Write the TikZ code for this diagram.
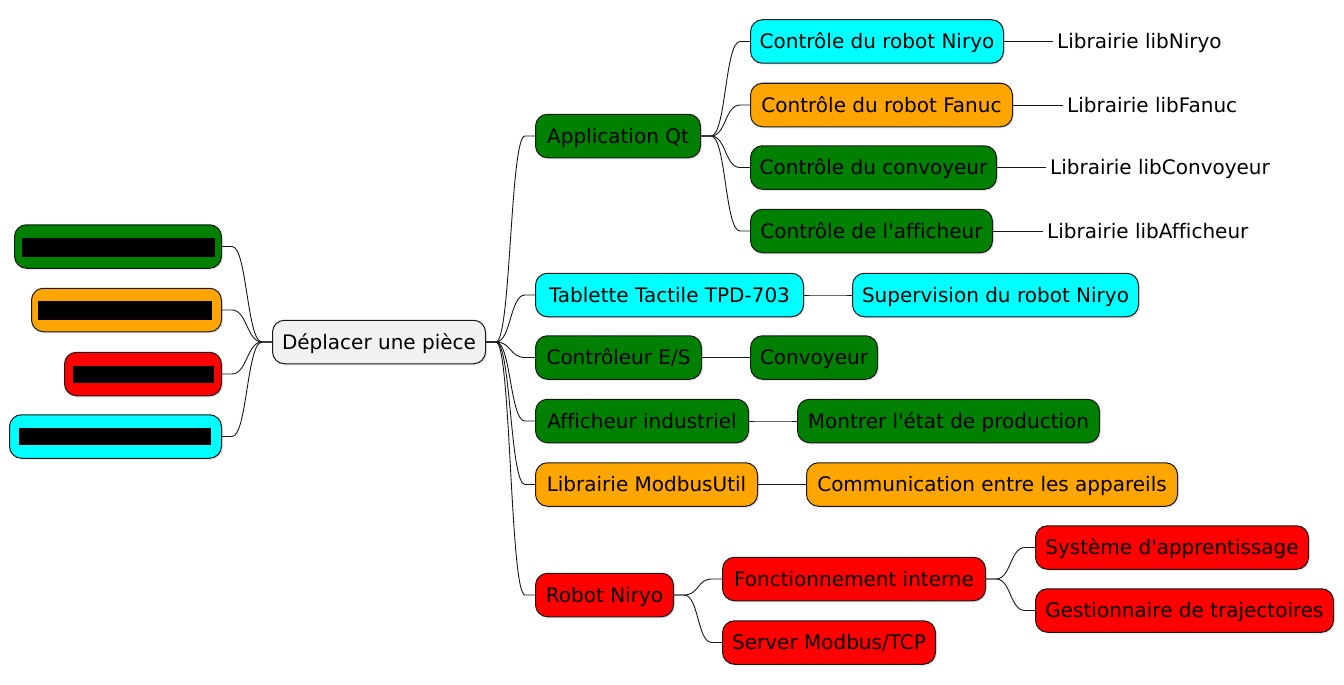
\documentclass[tikz,border=0pt]{standalone}
\usepackage{fontspec}
\setmainfont{DejaVu Sans}[Ligatures={NoCommon}]
\usetikzlibrary{shadows}
\definecolor{mgreen}{HTML}{008000}
\definecolor{morange}{HTML}{FFA500}
\definecolor{mred}{HTML}{FF0000}
\definecolor{mcyan}{HTML}{00FFFF}
\definecolor{mroot}{HTML}{F1F1F1}
\definecolor{mline}{HTML}{181818}
\newcommand{\rlink}[2]{\draw[conn] (#1.east) -- ([xshift=10pt]#1.east) .. controls ([xshift=25pt]#1.east) and ([xshift=-25pt]#2.west) .. ([xshift=-10pt]#2.west) -- (#2.west);}
\newcommand{\llink}[2]{\draw[conn] (#1.west) -- ([xshift=-10pt]#1.west) .. controls ([xshift=-25pt]#1.west) and ([xshift=25pt]#2.east) .. ([xshift=10pt]#2.east) -- (#2.east);}
\begin{document}
\begin{tikzpicture}[x=1pt,y=-1pt,
  box/.style={draw=mline, line width=1pt, rounded corners=12pt, minimum height=43.5pt,
    inner xsep=4pt, inner ysep=0pt, font=\fontsize{20}{24}\selectfont, text=black,
    text height=19pt, text depth=4.4pt,
    drop shadow={opacity=0.18, shadow xshift=1.5pt, shadow yshift=-1.5pt}},
  leaf/.style={inner xsep=4pt, inner ysep=0pt, font=\fontsize{20}{24}\selectfont, text=black,
    text height=19pt, text depth=4.4pt},
  conn/.style={draw=mline, line width=0.9pt},
  redact/.style={fill=black, inner sep=0pt}]
\useasboundingbox (0,0) rectangle (1344,685);

% root
\node[box, fill=mroot, minimum width=213pt, anchor=west] (root) at (272,342) {Déplacer une pièce};

% left side
\node[box, fill=mgreen, minimum width=207pt, anchor=east] (L1) at (222,246.5) {};
\node[redact, minimum width=193pt, minimum height=19pt] (L1r) at (118.5,247.5) {};
\node[box, fill=morange, minimum width=190pt, anchor=east] (L2) at (222,310) {};
\node[redact, minimum width=174pt, minimum height=19pt] (L2r) at (125,310.5) {};
\node[box, fill=mred, minimum width=157pt, anchor=east] (L3) at (222,374) {};
\node[redact, minimum width=141pt, minimum height=17pt] (L3r) at (143.5,374.5) {};
\node[box, fill=mcyan, minimum width=212pt, anchor=east] (L4) at (222,436.5) {};
\node[redact, minimum width=192pt, minimum height=17pt] (L4r) at (115,436.5) {};

% right level 1
\node[box, fill=mgreen, minimum width=165pt, anchor=west] (A) at (535,136) {Application Qt};
\node[box, fill=mcyan, minimum width=268pt, anchor=west] (T) at (535,295) {Tablette Tactile TPD-703};
\node[box, fill=mgreen, minimum width=166pt, anchor=west] (C) at (535,357.5) {Contrôleur E/S};
\node[box, fill=mgreen, minimum width=213pt, anchor=west] (F) at (535,421) {Afficheur industriel};
\node[box, fill=morange, minimum width=222pt, anchor=west] (M) at (535,484.5) {Librairie ModbusUtil};
\node[box, fill=mred, minimum width=138pt, anchor=west] (R) at (535,595) {Robot Niryo};

% level 2
\node[box, fill=mcyan, minimum width=253pt, anchor=west] (A1) at (750,41.5) {Contrôle du robot Niryo};
\node[box, fill=morange, minimum width=262pt, anchor=west] (A2) at (750,105) {Contrôle du robot Fanuc};
\node[box, fill=mgreen, minimum width=246pt, anchor=west] (A3) at (750,167.5) {Contrôle du convoyeur};
\node[box, fill=mgreen, minimum width=242pt, anchor=west] (A4) at (750,231) {Contrôle de l\textquotesingle afficheur};
\node[box, fill=mcyan, minimum width=286pt, anchor=west] (T1) at (852,295) {Supervision du robot Niryo};
\node[box, fill=mgreen, minimum width=127pt, anchor=west] (C1) at (750,357.5) {Convoyeur};
\node[box, fill=mgreen, minimum width=302pt, anchor=west] (F1) at (797,421) {Montrer l\textquotesingle état de production};
\node[box, fill=morange, minimum width=371pt, anchor=west] (M1) at (806,484.5) {Communication entre les appareils};
\node[box, fill=mred, minimum width=263pt, anchor=west] (R1) at (722,579) {Fonctionnement interne};
\node[box, fill=mred, minimum width=213pt, anchor=west] (R2) at (722,642.5) {Server Modbus/TCP};

% level 3
\node[leaf, anchor=west] (A1l) at (1053,41.5) {Librairie libNiryo};
\node[leaf, anchor=west] (A2l) at (1063,105) {Librairie libFanuc};
\node[leaf, anchor=west] (A3l) at (1046,167.5) {Librairie libConvoyeur};
\node[leaf, anchor=west] (A4l) at (1043,231) {Librairie libAfficheur};
\node[box, fill=mred, minimum width=273pt, anchor=west] (R11) at (1035,547.5) {Système d\textquotesingle apprentissage};
\node[box, fill=mred, minimum width=298pt, anchor=west] (R12) at (1035,610.5) {Gestionnaire de trajectoires};

% connectors
\llink{root}{L1}
\llink{root}{L2}
\llink{root}{L3}
\llink{root}{L4}
\rlink{root}{A}
\rlink{root}{T}
\rlink{root}{C}
\rlink{root}{F}
\rlink{root}{M}
\rlink{root}{R}
\rlink{A}{A1}
\rlink{A}{A2}
\rlink{A}{A3}
\rlink{A}{A4}
\rlink{T}{T1}
\rlink{C}{C1}
\rlink{F}{F1}
\rlink{M}{M1}
\rlink{R}{R1}
\rlink{R}{R2}
\rlink{R1}{R11}
\rlink{R1}{R12}
\draw[conn] (A1.east) -- (A1l.west);
\draw[conn] (A2.east) -- (A2l.west);
\draw[conn] (A3.east) -- (A3l.west);
\draw[conn] (A4.east) -- (A4l.west);
\end{tikzpicture}
\end{document}
